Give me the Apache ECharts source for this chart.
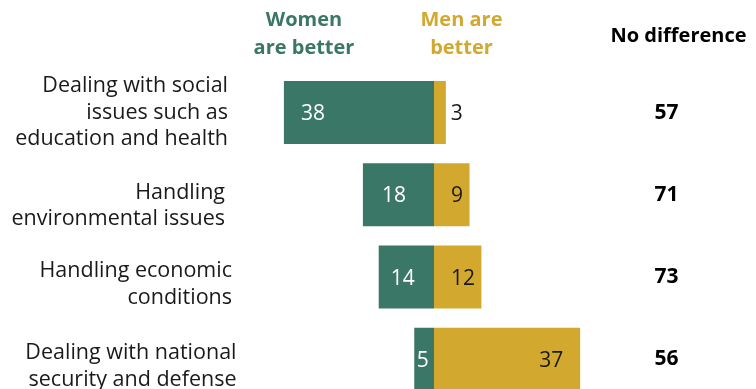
<!DOCTYPE html>
<html>
<head>
<meta charset="utf-8">
<script src="https://cdn.jsdelivr.net/npm/echarts@6/dist/echarts.min.js"></script>
<style>
  html, body { margin: 0; padding: 0; background: #ffffff; }
  #chart { width: 756px; height: 389px; }
</style>
</head>
<body>
<div id="chart"></div>
<script>
// Survey items and shares (%) saying women / men are better, or no difference
const categories = [
  'Dealing with social\nissues such as\neducation and health',
  'Handling\nenvironmental issues',
  'Handling economic\nconditions',
  'Dealing with national\nsecurity and defense'
];
const women = [38, 18, 14, 5];
const men = [3, 9, 12, 37];
const noDiff = [57, 71, 73, 56];

const GREEN = '#3b7766';
const GOLD = '#d3a82f';
const FONT = '"Open Sans", Roboto, sans-serif';

// per-row label tweaks: px pulled left from the grid edge, and the height of
// a blank spacer line placed above the text to drop it a little lower
const nudgeLeft = [8.5, 11.5, 4.5, 0];
const spacerAbove = [0, 22, 15, 14];

// value labels: long bars carry them near the outer end, short ones near the middle
function womenLabel(v) {
  if (v >= 30) return { position: 'insideLeft', distance: 17, offset: [0, 1.5] };
  return { position: 'inside', offset: [-v / 4, 1.5] };
}
function menLabel(v) {
  if (v < 5) return { position: 'right', distance: 5, color: '#1a1a1a', offset: [0, 1.5] };
  if (v >= 30) return { position: 'insideRight', distance: 17, offset: [0, 1.5] };
  return { position: 'insideLeft', distance: 17, offset: [0, 1.5] };
}

const yData = categories.map((c, i) => ({
  value: c,
  textStyle: { padding: [0, nudgeLeft[i], 0, 0] }
}));

const spacerRich = {};
spacerAbove.forEach((h, i) => {
  spacerRich['g' + i] = { fontSize: 1, lineHeight: h };
});

const headerStyle = (text, fill) => ({
  text, fill, fontSize: 20, fontWeight: 'bold', lineHeight: 28,
  align: 'center', verticalAlign: 'top', fontFamily: FONT
});

const chart = echarts.init(document.getElementById('chart'), null, { renderer: 'canvas' });
chart.setOption({
  animation: false,
  backgroundColor: '#ffffff',
  textStyle: { fontFamily: FONT },
  grid: {
    left: 236.5, top: 71.4, width: 395, height: 329,
    containLabel: false, outerBoundsMode: 'none'
  },
  xAxis: { type: 'value', min: -50, max: 50, show: false },
  yAxis: [
    {
      type: 'category', inverse: true, data: yData,
      axisLine: { show: false }, axisTick: { show: false },
      axisLabel: {
        margin: 0, align: 'right',
        color: '#1a1a1a', fontSize: 21.5, lineHeight: 26.5, fontFamily: FONT,
        formatter: (v, i) => spacerAbove[i] > 0 ? '{g' + i + '| }\n' + v : v,
        rich: spacerRich
      }
    },
    {
      type: 'category', inverse: true, position: 'right',
      data: noDiff.map(String),
      axisLine: { show: false }, axisTick: { show: false },
      axisLabel: {
        margin: 35, align: 'center', color: '#000000', fontSize: 21,
        fontWeight: 'bold', fontFamily: FONT
      }
    }
  ],
  series: [
    {
      name: 'Women are better', type: 'bar', barWidth: 63, barGap: '-100%',
      itemStyle: { color: GREEN },
      label: {
        show: true, color: '#ffffff', fontSize: 21, fontFamily: FONT,
        formatter: p => Math.abs(p.value)
      },
      data: women.map(v => ({ value: -v, label: womenLabel(v) }))
    },
    {
      name: 'Men are better', type: 'bar', barWidth: 63, barGap: '-100%',
      itemStyle: { color: GOLD },
      label: {
        show: true, color: '#1a1a1a', fontSize: 21, fontFamily: FONT,
        formatter: p => p.value
      },
      data: men.map(v => ({ value: v, label: menLabel(v) }))
    }
  ],
  graphic: [
    { type: 'text', x: 304, y: 6, style: headerStyle('Women\nare better', GREEN) },
    { type: 'text', x: 461.5, y: 6, style: headerStyle('Men are\nbetter', GOLD) },
    { type: 'text', x: 678.5, y: 22, style: headerStyle('No difference', '#000000') }
  ]
});
</script>
</body>
</html>
